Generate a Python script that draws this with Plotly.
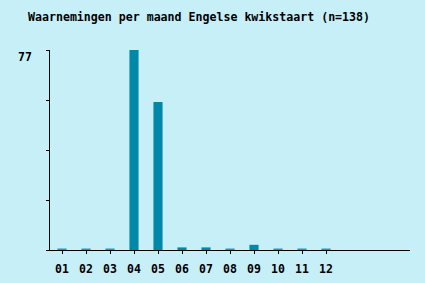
import plotly.graph_objects as go

months = ["01", "02", "03", "04", "05", "06", "07", "08", "09", "10", "11", "12"]
counts = [0, 0, 0, 77, 57, 1, 1, 0, 2, 0, 0, 0]
title_text = "Waarnemingen per maand Engelse kwikstaart (n=138)"
y_max = 77

bar_col = "#0088a8"
zero_col = "#1a9ec0"
colors = [zero_col if v == 0 else bar_col for v in counts]
line_w = [3 if v == 0 else 0 for v in counts]

fig = go.Figure()
fig.add_trace(go.Bar(
    x=list(range(len(months))), y=counts,
    width=0.38,
    marker=dict(color=colors, line=dict(color=colors, width=line_w)),
    hoverinfo="skip",
))

font_family = "DejaVu Sans Mono"
fig.update_layout(
    width=425, height=283,
    margin=dict(l=50, r=15, t=50, b=33, autoexpand=False),
    paper_bgcolor="#c6eff8", plot_bgcolor="#c6eff8",
    showlegend=False,
    title=dict(text="<b>" + title_text + "</b>", x=28/425, xanchor="left",
               y=1 - 17/283, yanchor="middle",
               font=dict(family=font_family, size=11.6, color="black")),
    font=dict(family=font_family, color="black"),
)
fig.update_xaxes(
    range=[-0.5, 14.5],
    tickvals=list(range(len(months))),
    ticktext=["<b>" + m + "</b>" for m in months],
    showline=True, linecolor="black", linewidth=1,
    ticks="outside", ticklen=3, tickcolor="black", tickwidth=1,
    showgrid=False, zeroline=False,
    tickfont=dict(family=font_family, size=11.5),
    ticklabelstandoff=5,
    automargin=False,
)
yt = [y_max * i / 4 for i in range(5)]
fig.update_yaxes(
    range=[0, y_max],
    tickvals=yt,
    ticktext=["", "", "", "", ""],
    showline=True, linecolor="black", linewidth=1,
    ticks="outside", ticklen=3, tickcolor="black", tickwidth=1,
    showgrid=False, zeroline=False,
    tickfont=dict(family=font_family, size=11.5),
    automargin=False,
)
fig.add_annotation(
    text="<b>" + str(y_max) + "</b>", xref="paper", yref="y",
    x=0, y=y_max, xanchor="right", yanchor="middle",
    xshift=-16, yshift=-7, showarrow=False,
    font=dict(family=font_family, size=11.5, color="black"),
)
fig.write_html("out.html")
